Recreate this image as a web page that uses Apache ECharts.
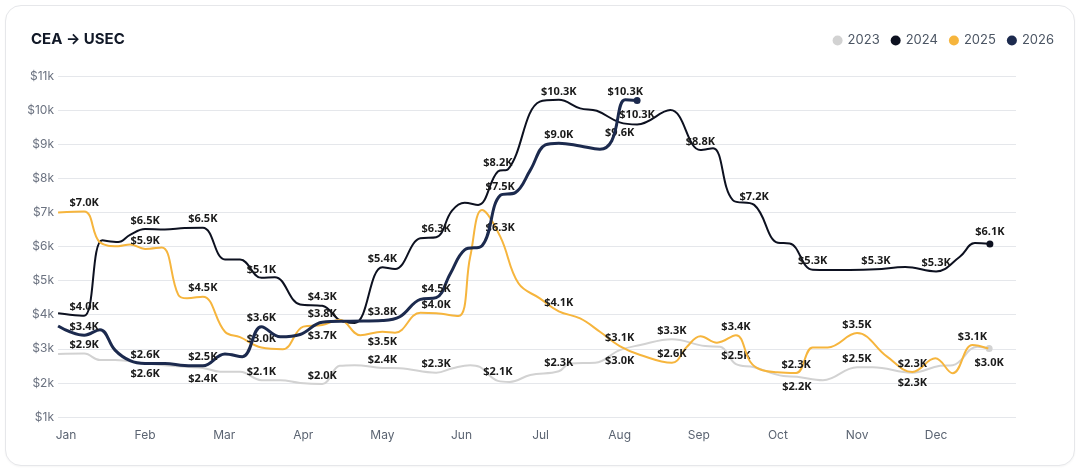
<!DOCTYPE html>
<html><head><meta charset="utf-8">
<script src="https://cdn.jsdelivr.net/npm/echarts@6/dist/echarts.min.js"></script>
<style>
html,body{margin:0;padding:0;background:#fff;width:1084px;height:472px;overflow:hidden}
#card{position:absolute;left:5px;top:5px;width:1068px;height:459px;border:1px solid #e6e7ea;border-radius:16px;background:#fff;box-shadow:0 1px 2px rgba(0,0,0,0.04)}
#chart{position:absolute;left:0;top:0;width:1084px;height:472px}
</style></head><body>
<div id="card"></div><div id="chart"></div>
<script>
// ---- data (x = position in months, Jan = 0; values in $k) ----
const monthLabels = ['Jan','Feb','Mar','Apr','May','Jun','Jul','Aug','Sep','Oct','Nov','Dec'];
const yearNames = ['2023','2024','2025','2026'];

const x2023 = [-0.10,0.23,0.43,0.62,1.00,1.50,1.73,1.95,2.20,2.47,2.71,2.96,3.24,3.46,3.65,4.00,4.22,4.68,4.89,5.11,5.23,5.46,5.61,5.87,6.23,6.37,6.69,7.00,7.26,7.66,8.08,8.27,8.47,8.70,9.07,9.24,9.57,10.00,10.20,10.70,11.05,11.21,11.52,11.67];
const v2023 = [2.85,2.86,2.67,2.67,2.57,2.47,2.44,2.33,2.33,2.08,2.08,2.00,1.97,2.50,2.52,2.44,2.43,2.30,2.43,2.52,2.47,2.06,2.03,2.23,2.34,2.57,2.59,2.96,3.11,3.28,3.08,3.06,2.55,2.46,2.20,2.18,2.08,2.46,2.46,2.30,2.50,2.52,3.06,3.01];
const lab2023 = [1,4,6,9,12,15,17,21,24,27,29,32,35,37,39,43];

const x2024 = [-0.10,0.05,0.23,0.46,0.66,0.81,1.00,1.25,1.50,1.73,2.01,2.20,2.47,2.64,2.96,3.24,3.46,3.65,4.00,4.16,4.48,4.68,4.88,5.04,5.21,5.46,5.59,5.99,6.23,6.50,6.71,7.00,7.22,7.64,8.02,8.18,8.43,8.70,9.00,9.15,9.44,9.91,10.24,10.61,11.00,11.30,11.49,11.68];
const v2024 = [4.04,4.00,3.97,6.18,6.13,6.34,6.51,6.50,6.54,6.55,5.62,5.62,5.08,5.10,4.30,4.26,3.84,3.76,5.39,5.34,6.24,6.27,7.05,7.28,7.22,8.20,8.27,10.25,10.30,10.05,9.98,9.64,9.58,10.00,8.83,8.88,7.36,7.22,6.11,6.09,5.32,5.31,5.33,5.40,5.27,5.70,6.10,6.07];
const lab2024 = [2,6,9,12,15,18,21,25,28,31,34,37,40,42,44,47];

const x2025 = [-0.10,0.23,0.43,0.66,0.81,1.00,1.21,1.42,1.53,1.73,2.01,2.20,2.47,2.74,3.00,3.24,3.46,3.72,4.00,4.16,4.48,4.68,4.96,5.11,5.26,5.49,5.72,5.99,6.23,6.50,6.75,7.00,7.26,7.66,7.85,8.02,8.23,8.47,8.65,8.77,8.99,9.23,9.44,9.63,10.00,10.38,10.70,10.99,11.21,11.46,11.66];
const v2025 = [7.00,7.03,6.12,6.01,6.06,5.93,5.97,4.58,4.48,4.53,3.50,3.34,3.04,2.99,3.65,3.70,3.85,3.40,3.50,3.47,4.06,4.04,3.96,5.70,7.07,6.29,4.92,4.48,4.10,3.89,3.50,3.08,2.82,2.59,3.06,3.37,3.18,3.40,2.62,2.40,2.31,2.29,3.04,3.04,3.46,2.77,2.32,2.72,2.28,3.11,3.01];
const lab2025 = [1,5,9,12,15,18,21,25,28,31,33,37,41,44,46,49];

const x2026 = [-0.10,0.05,0.23,0.43,0.62,0.81,1.00,1.25,1.50,1.73,2.01,2.23,2.47,2.71,2.96,3.24,3.59,4.00,4.22,4.48,4.68,4.86,5.04,5.26,5.49,5.68,5.87,6.06,6.23,6.50,6.75,6.90,7.07,7.22];
const v2026 = [3.67,3.50,3.40,3.56,2.96,2.65,2.57,2.57,2.51,2.50,2.85,2.77,3.65,3.35,3.42,3.78,3.81,3.83,3.94,4.45,4.50,5.21,5.90,6.02,7.50,7.58,8.24,8.98,9.03,8.95,8.85,9.10,10.30,10.28];
const lab2026 = [2,6,9,12,15,17,20,24,28,32,33];

const yMin = 1, yMax = 11, yStep = 1;

// ---- chart ----
const colors = ['#d2d2d2','#0d1120','#f6b53d','#1c2a4e'];
const widths = [2, 2, 2, 3];
const endDot = [true, true, false, true];
const xs = [x2023, x2024, x2025, x2026];
const vs = [v2023, v2024, v2025, v2026];
const labs = [lab2023, lab2024, lab2025, lab2026];
const LABEL_FONT = 'bold 11px "Noto Sans"';
const fmt = v => '$' + v.toFixed(1) + 'K';

const chart = echarts.init(document.getElementById('chart'), null, {renderer: 'canvas'});

function buildSeries(labelPos) {
  return yearNames.map((name, s) => {
    const last = xs[s].length - 1;
    return {
      name, type: 'line', smooth: 0.4, showSymbol: true, symbol: 'circle',
      symbolSize: (val, p) => (endDot[s] && p.dataIndex === last) ? 7 : 0,
      lineStyle: {color: colors[s], width: widths[s]},
      itemStyle: {color: colors[s]},
      emphasis: {disabled: true},
      z: 2 + s,
      label: {show: false, color: '#1a1a1a', fontFamily: 'Noto Sans', fontWeight: 'bold', fontSize: 11,
              formatter: p => fmt(p.value[1])},
      data: xs[s].map((x, i) => {
        const item = {value: [x, vs[s][i]]};
        const lp = labelPos && labelPos[s][i];
        if (lp) item.label = {show: true, position: lp, distance: lp === 'top' ? 3 : 5};
        return item;
      })
    };
  });
}

const option = {
  animation: false,
  backgroundColor: 'transparent',
  color: colors,
  title: {text: 'CEA \u2192 USEC', left: 26, top: 27,
          textStyle: {fontFamily: 'Inter', fontSize: 15, fontWeight: 700, color: '#111827'}},
  legend: {data: yearNames, right: 25, top: 29, icon: 'circle', itemWidth: 10, itemHeight: 10, itemGap: 11,
           textStyle: {fontFamily: 'Inter', fontSize: 13, color: '#4b5563'}},
  grid: {left: 58, right: 68, top: 76, bottom: 55},
  xAxis: {type: 'value', min: -0.101, max: 12.01,
          axisLine: {show: false}, axisTick: {show: false}, splitLine: {show: false},
          axisLabel: {customValues: monthLabels.map((m, i) => i), formatter: v => monthLabels[Math.round(v)] || '',
                      color: '#5b6472', fontFamily: 'Inter', fontSize: 12, margin: 12}},
  yAxis: {type: 'value', min: yMin, max: yMax, interval: yStep,
          axisLine: {show: false}, axisTick: {show: false},
          splitLine: {lineStyle: {color: '#e5e7eb', width: 1}},
          axisLabel: {formatter: v => '$' + v + 'k', color: '#6b7280', fontFamily: 'Inter', fontSize: 12, margin: 4}},
  series: buildSeries(null)
};
chart.setOption(option);

// ---- label placement: top by default, bottom when it would collide ----
const ctx = document.createElement('canvas').getContext('2d');
ctx.font = LABEL_FONT;
const placed = [];
const labelPos = yearNames.map(() => ({}));
const order = [3, 2, 1, 0];
const H = 13;
order.forEach(s => {
  labs[s].forEach(i => {
    const p = chart.convertToPixel({gridIndex: 0}, [xs[s][i], vs[s][i]]);
    const w = ctx.measureText(fmt(vs[s][i])).width;
    const top = {x: p[0], y: p[1] - 10, w};
    const hit = placed.some(b => Math.abs(b.x - top.x) < (b.w + top.w) / 2 && Math.abs(b.y - top.y) < H);
    if (hit) { labelPos[s][i] = 'bottom'; placed.push({x: p[0], y: p[1] + 12, w}); }
    else { labelPos[s][i] = 'top'; placed.push(top); }
  });
});
chart.setOption({series: buildSeries(labelPos)});
</script>
</body></html>
